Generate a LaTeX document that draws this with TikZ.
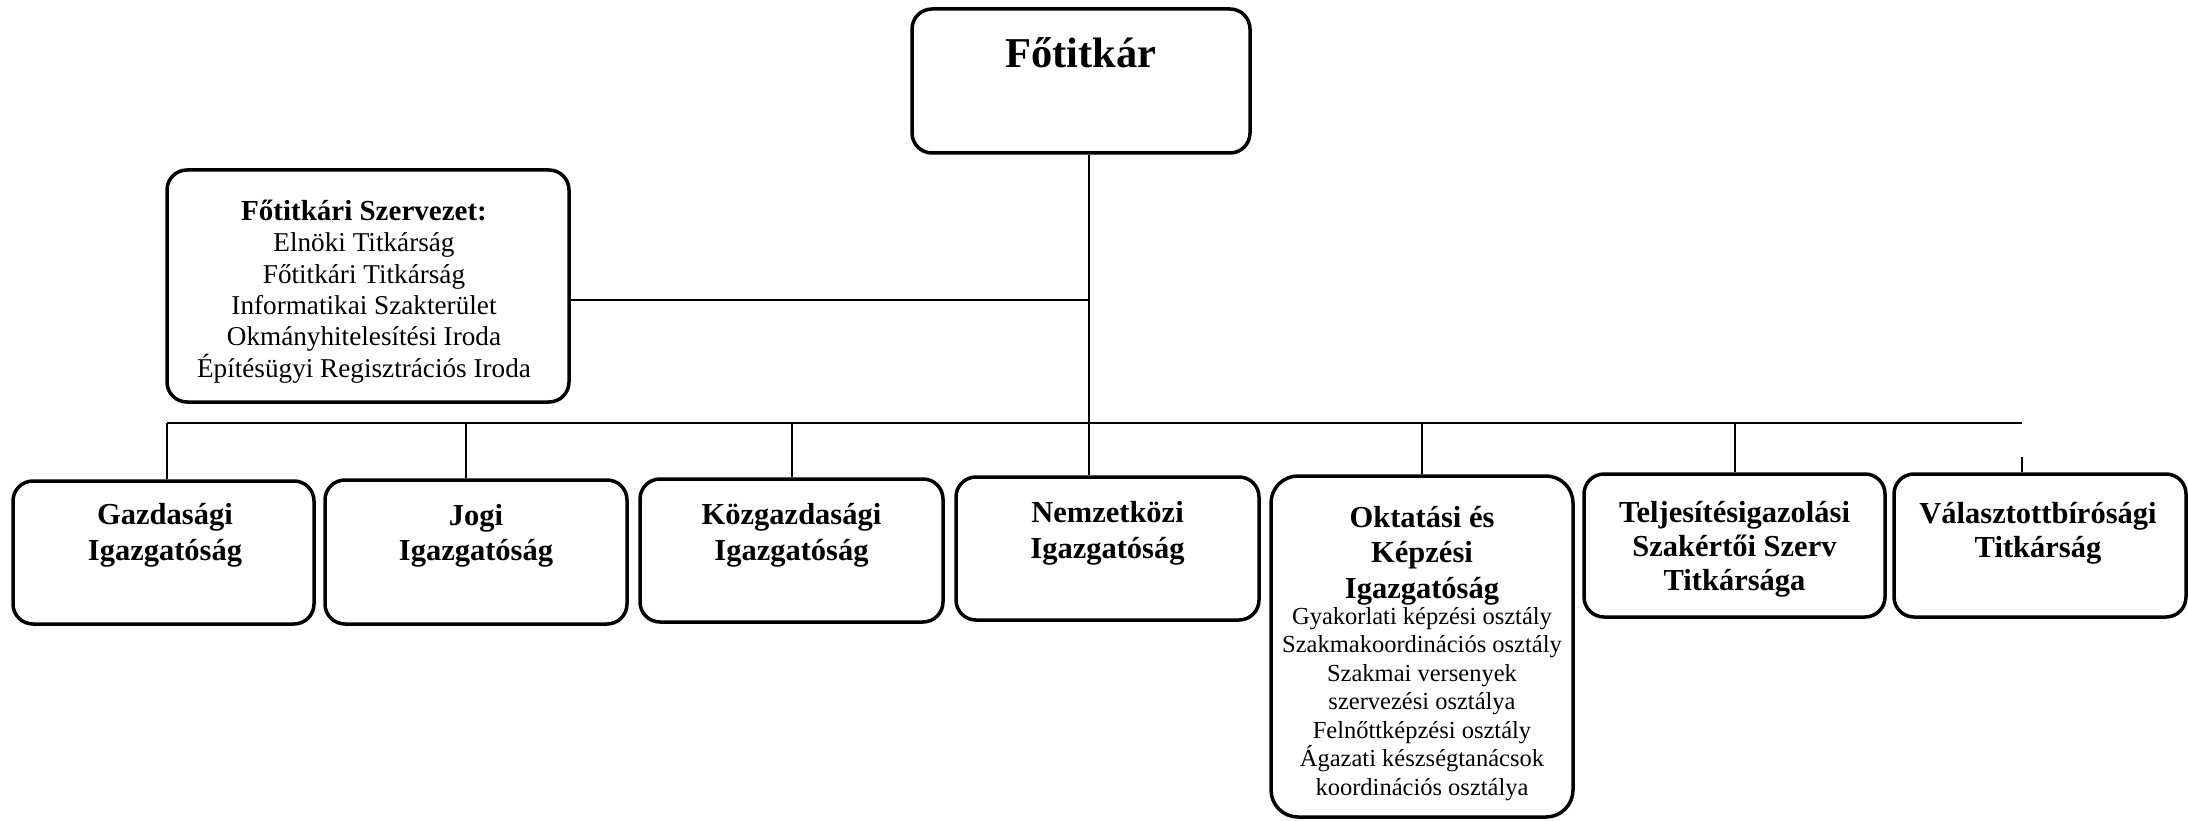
\documentclass[tikz,border=0pt]{standalone}
\usepackage{fontspec}
\setmainfont{Liberation Serif}
\begin{document}
\begin{tikzpicture}[x=1pt,y=-1pt,
  box/.style={draw, line width=3.5pt, rounded corners=20pt, inner sep=0pt},
  conn/.style={line width=2pt},
  ttl/.style={font=\fontsize{30.5}{35.5}\selectfont\bfseries, align=center, inner sep=0pt},
  lst/.style={font=\fontsize{24.5}{28.5}\selectfont, align=center, inner sep=0pt},
  org/.style={font=\fontsize{27.2}{31.4}\selectfont, align=center, inner sep=0pt}]
\useasboundingbox (0,0) rectangle (2188,821);
% top
\node[box, minimum width=338pt, minimum height=144pt] (fot) at (1081,81) {};
\node[font=\fontsize{42.5}{50}\selectfont\bfseries, inner sep=0pt] (fottxt) at (1081,53) {Főtitkár};
% staff organisation
\node[box, minimum width=402pt, minimum height=232pt] (szerv) at (368,286) {};
\node[org] (szervtxt) at (364,291.5) {{\fontsize{29}{31.4}\selectfont\bfseries Főtitkári Szervezet:}\\Elnöki Titkárság\\Főtitkári Titkárság\\Informatikai Szakterület\\Okmányhitelesítési Iroda\\Építésügyi Regisztrációs Iroda};
% directorates
\node[box, minimum width=301pt, minimum height=143pt] (gaz) at (163.5,552.5) {};
\node[ttl] (gaztxt) at (165,535.5) {Gazdasági\\Igazgatóság};
\node[box, minimum width=302pt, minimum height=144pt] (jogi) at (476,552) {};
\node[ttl] (jogitxt) at (476,536) {Jogi\\Igazgatóság};
\node[box, minimum width=303pt, minimum height=143pt] (kozg) at (791.5,550.5) {};
\node[ttl] (kozgtxt) at (791.5,535.5) {Közgazdasági\\Igazgatóság};
\node[box, minimum width=303pt, minimum height=143pt] (nemz) at (1107.5,548.5) {};
\node[ttl] (nemztxt) at (1107.5,533.5) {Nemzetközi\\Igazgatóság};
\node[box, rounded corners=27pt, minimum width=302pt, minimum height=341pt] (okt) at (1422,646.5) {};
\node[ttl] (okttxt) at (1422,555.5) {Oktatási és\\Képzési\\Igazgatóság};
\node[lst] (oktlst) at (1422,704) {Gyakorlati képzési osztály\\Szakmakoordinációs osztály\\Szakmai versenyek\\szervezési osztálya\\Felnőttképzési osztály\\Ágazati készségtanácsok\\koordinációs osztálya};
\node[box, minimum width=301pt, minimum height=143pt] (telj) at (1734.5,545.5) {};
\node[ttl, font=\fontsize{30.5}{33.8}\selectfont\bfseries] (teljtxt) at (1734.5,549.5) {Teljesítésigazolási\\Szakértői Szerv\\Titkársága};
\node[box, minimum width=292pt, minimum height=143pt] (val) at (2040,545.5) {};
\node[ttl, font=\fontsize{30.5}{33.8}\selectfont\bfseries] (valtxt) at (2038,533.5) {Választottbírósági\\Titkárság};
% connectors
\coordinate (mx) at (1089,0);
\draw[conn] (fot.south -| mx) -- (nemz.north -| mx);
\coordinate (jn) at (1089,300);
\draw[conn] (szerv.east |- jn) -- (jn);
\coordinate (bl) at (167,423);
\coordinate (br) at (2022,423);
\draw[conn] (bl) -- (br);
\draw[conn] (bl) -- (bl |- gaz.north);
\coordinate (b2) at (466,423);
\draw[conn] (b2) -- (b2 |- jogi.north);
\draw[conn] (kozg.north |- bl) -- (kozg.north);
\draw[conn] (okt.north |- bl) -- (okt.north);
\draw[conn] (telj.north |- bl) -- (telj.north);
\coordinate (vs) at (2022,457);
\draw[conn] (vs) -- (vs |- val.north);
\end{tikzpicture}
\end{document}
